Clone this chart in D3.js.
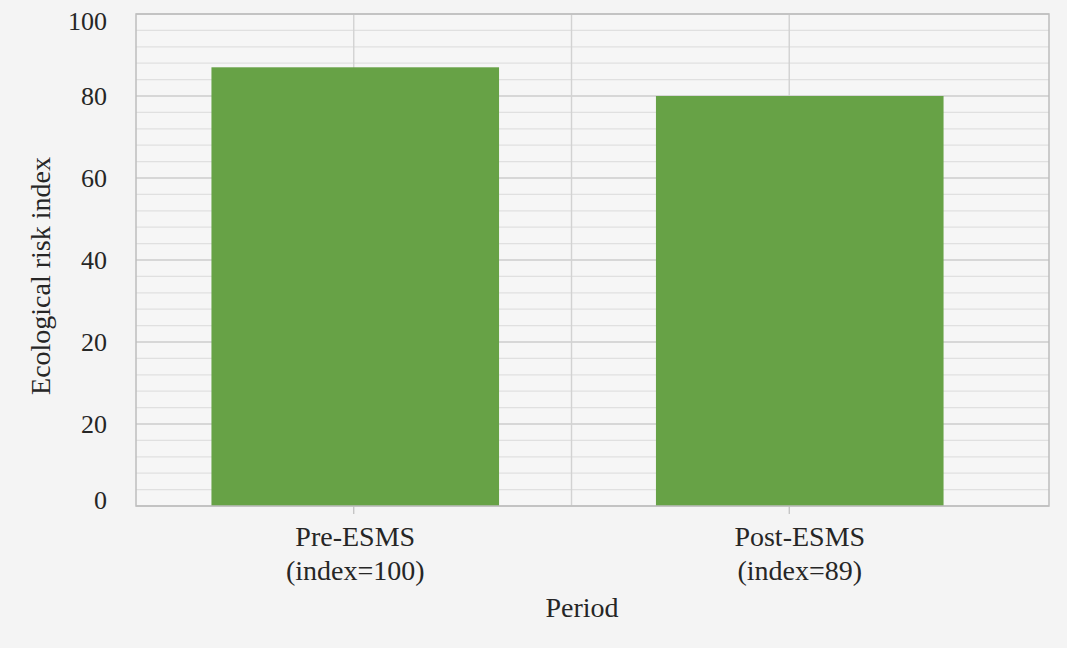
<!DOCTYPE html>
<html><head><meta charset="utf-8">
<script src="https://cdn.jsdelivr.net/npm/d3@7"></script>
<style>
html,body{margin:0;padding:0;background:#f4f4f4;}
svg{display:block;}
text{font-family:"Liberation Serif","Times New Roman",serif;fill:#262626;}
</style></head>
<body>
<svg id="chart" width="1067" height="648"></svg>
<script>
// ---- data ----
const categories = ["Pre-ESMS", "Post-ESMS"];
const categorySubLabels = ["(index=100)", "(index=89)"];
const values = [87, 80];
// y tick values (as positioned on the axis) and their printed labels, bottom to top
const yTickValues = [0, 10, 20, 40, 60, 80, 100];
const yTickLabels = ["0", "20", "20", "40", "60", "80", "100"];
const yTitle = "Ecological risk index";
const xTitle = "Period";

// ---- layout ----
const W = 1067, H = 648;
const plot = {left: 136, right: 1049, top: 14, bottom: 506};
const svg = d3.select("#chart");
svg.append("rect").attr("width", W).attr("height", H).attr("fill", "#f4f4f4");

// piecewise y scale reproducing the uneven axis of the source
const y = d3.scaleLinear().domain([0, 20, 100]).range([plot.bottom, 342, plot.top]);
// category scale for bars and their labels
const x = d3.scaleBand().domain(categories).range([133, 1022]).paddingInner(0.353).paddingOuter(0.1765);
// category scale for the axis ticks / vertical gridlines
const xAxisScale = d3.scaleBand().domain(categories).range([136, 1007]);

// plot background
svg.append("rect").attr("x", plot.left).attr("y", plot.top)
  .attr("width", plot.right - plot.left).attr("height", plot.bottom - plot.top)
  .attr("fill", "#f6f6f6");

// minor gridlines (4 between every pair of major ticks)
const minor = [];
for (let i = 0; i < yTickValues.length - 1; i++) {
  const a = y(yTickValues[i]), b = y(yTickValues[i + 1]);
  for (let k = 1; k < 5; k++) minor.push(a + (b - a) * k / 5);
}
svg.append("g").selectAll("line").data(minor).join("line")
  .attr("x1", plot.left).attr("x2", plot.right)
  .attr("y1", d => d).attr("y2", d => d)
  .attr("stroke", "#e0e0e0").attr("stroke-width", 1.2);

// major gridlines
svg.append("g").selectAll("line").data(yTickValues).join("line")
  .attr("x1", plot.left).attr("x2", plot.right)
  .attr("y1", d => y(d)).attr("y2", d => y(d))
  .attr("stroke", "#cdcdcd").attr("stroke-width", 1.4);

// vertical gridlines at category centres and boundary
const vlines = categories.map(c => xAxisScale(c) + xAxisScale.bandwidth() / 2);
vlines.push(xAxisScale(categories[1]));
svg.append("g").selectAll("line").data(vlines).join("line")
  .attr("x1", d => d).attr("x2", d => d)
  .attr("y1", plot.top).attr("y2", plot.bottom)
  .attr("stroke", "#d2d2d2").attr("stroke-width", 1.4);

// bars
svg.append("g").selectAll("rect").data(categories).join("rect")
  .attr("x", d => x(d))
  .attr("y", (d, i) => y(values[i]))
  .attr("width", x.bandwidth())
  .attr("height", (d, i) => plot.bottom - y(values[i]))
  .attr("fill", "#67a246");

// plot border
svg.append("rect").attr("x", plot.left).attr("y", plot.top)
  .attr("width", plot.right - plot.left).attr("height", plot.bottom - plot.top)
  .attr("fill", "none").attr("stroke", "#bdbdbd").attr("stroke-width", 1.5);

// y axis labels
svg.append("g").selectAll("text").data(yTickValues).join("text")
  .attr("x", 107)
  .attr("y", d => Math.min(Math.max(y(d), plot.top + 7), plot.bottom - 6))
  .attr("dy", "0.35em")
  .attr("text-anchor", "end")
  .attr("font-size", 26)
  .text((d, i) => yTickLabels[i]);

// x ticks and labels
const xg = svg.append("g");
categories.forEach((c, i) => {
  const tx = xAxisScale(c) + xAxisScale.bandwidth() / 2;
  xg.append("line").attr("x1", tx).attr("x2", tx)
    .attr("y1", plot.bottom).attr("y2", plot.bottom + 8)
    .attr("stroke", "#bdbdbd").attr("stroke-width", 1.2);
  const cx = x(c) + x.bandwidth() / 2;
  xg.append("text").attr("x", cx).attr("y", 546).attr("text-anchor", "middle")
    .attr("font-size", 28).text(c);
  xg.append("text").attr("x", cx).attr("y", 580).attr("text-anchor", "middle")
    .attr("font-size", 28).text(categorySubLabels[i]);
});

// axis titles
svg.append("text").attr("x", 582).attr("y", 617).attr("text-anchor", "middle")
  .attr("font-size", 28).text(xTitle);
svg.append("text").attr("transform", "translate(50,276) rotate(-90)")
  .attr("text-anchor", "middle").attr("font-size", 28).text(yTitle);
</script>
</body></html>
